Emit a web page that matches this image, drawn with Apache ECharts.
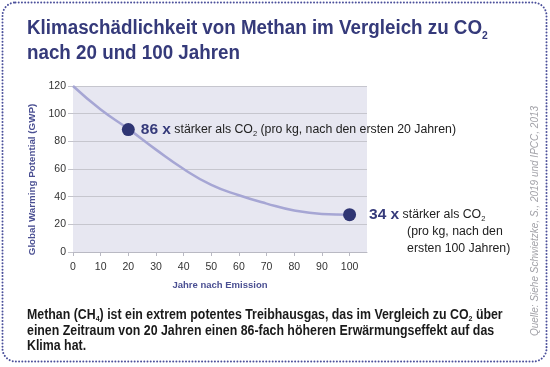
<!DOCTYPE html>
<html>
<head>
<meta charset="utf-8">
<script src="https://cdn.jsdelivr.net/npm/echarts@6/dist/echarts.min.js"></script>
<style>
html,body{margin:0;padding:0;background:#fff;}
#chart{width:550px;height:367px;}
</style>
</head>
<body>
<div id="chart"></div>
<script>
// ---- data ----
const years = [0, 10, 20, 30, 40, 50, 60, 70, 80, 90, 100];
const gwpCurve = [120, 103, 89, 74, 60, 48.5, 41, 35, 30, 27.5, 27];
const markerYears = [20, 100];
const markerValues = [88.5, 27];
const markerFactors = ['86 x', '34 x'];
const xTickLabels = [0, 10, 20, 30, 40, 50, 60, 70, 80, 90, 100];
const yTickLabels = [0, 20, 40, 60, 80, 100, 120];

const FONT = '"Liberation Sans", Arial, sans-serif';
const NAVY = '#353a7a';

const chart = echarts.init(document.getElementById('chart'), null, {renderer: 'canvas'});

const curveData = years.map((y, i) => [y, gwpCurve[i]]);
const markerData = [
  {
    value: [markerYears[0], markerValues[0]],
    label: {
      show: true, position: 'right', distance: 6,
      formatter: '{a|' + markerFactors[0] + '} {b|stärker als CO}{c|2}{b| (pro kg, nach den ersten 20 Jahren)}'
    }
  },
  {
    value: [markerYears[1], markerValues[1]],
    label: {
      show: true, position: 'right', distance: 13, offset: [0, 17],
      formatter: '{a|' + markerFactors[1] + '} {b|stärker als CO}{c|2}\n{d|(pro kg, nach den}\n{d|ersten 100 Jahren)}'
    }
  }
];

const richLabel = {
  a: {fontFamily: FONT, fontSize: 15.5, fontWeight: 'bold', color: NAVY, lineHeight: 17},
  b: {fontFamily: FONT, fontSize: 12.3, color: '#222222', lineHeight: 17},
  c: {fontFamily: FONT, fontSize: 7.5, color: '#222222', verticalAlign: 'bottom', lineHeight: 16},
  d: {fontFamily: FONT, fontSize: 12.3, color: '#222222', lineHeight: 17, padding: [0, 0, 0, 38]}
};

const option = {
  animation: false,
  backgroundColor: '#ffffff',
  grid: {left: 73, top: 86, width: 294, height: 166, show: true, backgroundColor: '#e7e7f1', borderWidth: 0},
  xAxis: {
    type: 'value', min: 0, max: 106.3,
    name: 'Jahre nach Emission', nameLocation: 'middle', nameGap: 28,
    nameTextStyle: {fontFamily: FONT, fontSize: 9.5, fontWeight: 'bold', color: '#4a4f92'},
    axisLine: {show: true, lineStyle: {color: '#b9b9c3', width: 1}},
    axisTick: {show: true, length: 4, customValues: xTickLabels, lineStyle: {color: '#b9b9c3'}},
    axisLabel: {customValues: xTickLabels, fontFamily: FONT, fontSize: 10.5, color: '#333333', margin: 10},
    splitLine: {show: false}
  },
  yAxis: {
    type: 'value', min: 0, max: 120, interval: 20,
    name: 'Global Warming Potential (GWP)', nameLocation: 'middle', nameGap: 30, nameRotate: 90,
    nameTextStyle: {fontFamily: FONT, fontSize: 9.8, fontWeight: 'bold', color: '#4a4f92', padding: [0, 21, 0, 0]},
    axisLine: {show: false},
    axisTick: {show: true, length: 5, lineStyle: {color: '#c3c3cb'}},
    axisLabel: {fontFamily: FONT, fontSize: 10.5, color: '#333333', margin: 7},
    splitLine: {show: true, lineStyle: {color: '#c6c6ce', width: 1}}
  },
  series: [
    {
      type: 'line', data: curveData, smooth: 0.5, symbol: 'none',
      lineStyle: {color: '#a6a6d4', width: 2.5}, z: 2
    },
    {
      type: 'scatter', data: markerData, symbolSize: 13,
      itemStyle: {color: '#2f3573', opacity: 1}, z: 3,
      label: {rich: richLabel}
    }
  ],
  graphic: [
    {
      type: 'rect', silent: true, z: 100,
      shape: {x: 2.5, y: 2.5, width: 544, height: 359, r: 13},
      style: {fill: 'none', stroke: '#4b509b', lineWidth: 2, lineDash: [0.01, 3.2], lineCap: 'round'}
    },
    {
      type: 'text', silent: true, z: 100,
      x: 27, y: 15.5, scaleX: 0.939,
      style: {
        text: '{t|Klimaschädlichkeit von Methan im Vergleich zu CO}{s|2}\n{t|nach 20 und 100 Jahren}',
        align: 'left', verticalAlign: 'top',
        rich: {
          t: {fontFamily: FONT, fontSize: 20, fontWeight: 'bold', fill: NAVY, lineHeight: 25.5},
          s: {fontFamily: FONT, fontSize: 11, fontWeight: 'bold', fill: NAVY, verticalAlign: 'bottom', lineHeight: 24}
        }
      }
    },
    {
      type: 'text', silent: true, z: 100,
      x: 27, y: 307.5, scaleX: 0.883,
      style: {
        text: '{p|Methan (CH}{s|4}{p|) ist ein extrem potentes Treibhausgas, das im Vergleich zu CO}{s|2}{p| über}\n' +
              '{p|einen Zeitraum von 20 Jahren einen 86-fach höheren Erwärmungseffekt auf das}\n' +
              '{p|Klima hat.}',
        align: 'left', verticalAlign: 'top',
        rich: {
          p: {fontFamily: FONT, fontSize: 14, fontWeight: 'bold', fill: '#1a1a1a', lineHeight: 15.6},
          s: {fontFamily: FONT, fontSize: 8, fontWeight: 'bold', fill: '#1a1a1a', verticalAlign: 'bottom', lineHeight: 15}
        }
      }
    },
    {
      type: 'text', silent: true, z: 100,
      x: 535, y: 221, rotation: Math.PI / 2,
      style: {
        text: 'Quelle: Siehe Schwietzke, S., 2019 und IPCC, 2013',
        font: 'italic 10px ' + FONT, fill: '#a2a2a8', align: 'center', verticalAlign: 'middle'
      }
    }
  ]
};
chart.setOption(option);
</script>
</body>
</html>
